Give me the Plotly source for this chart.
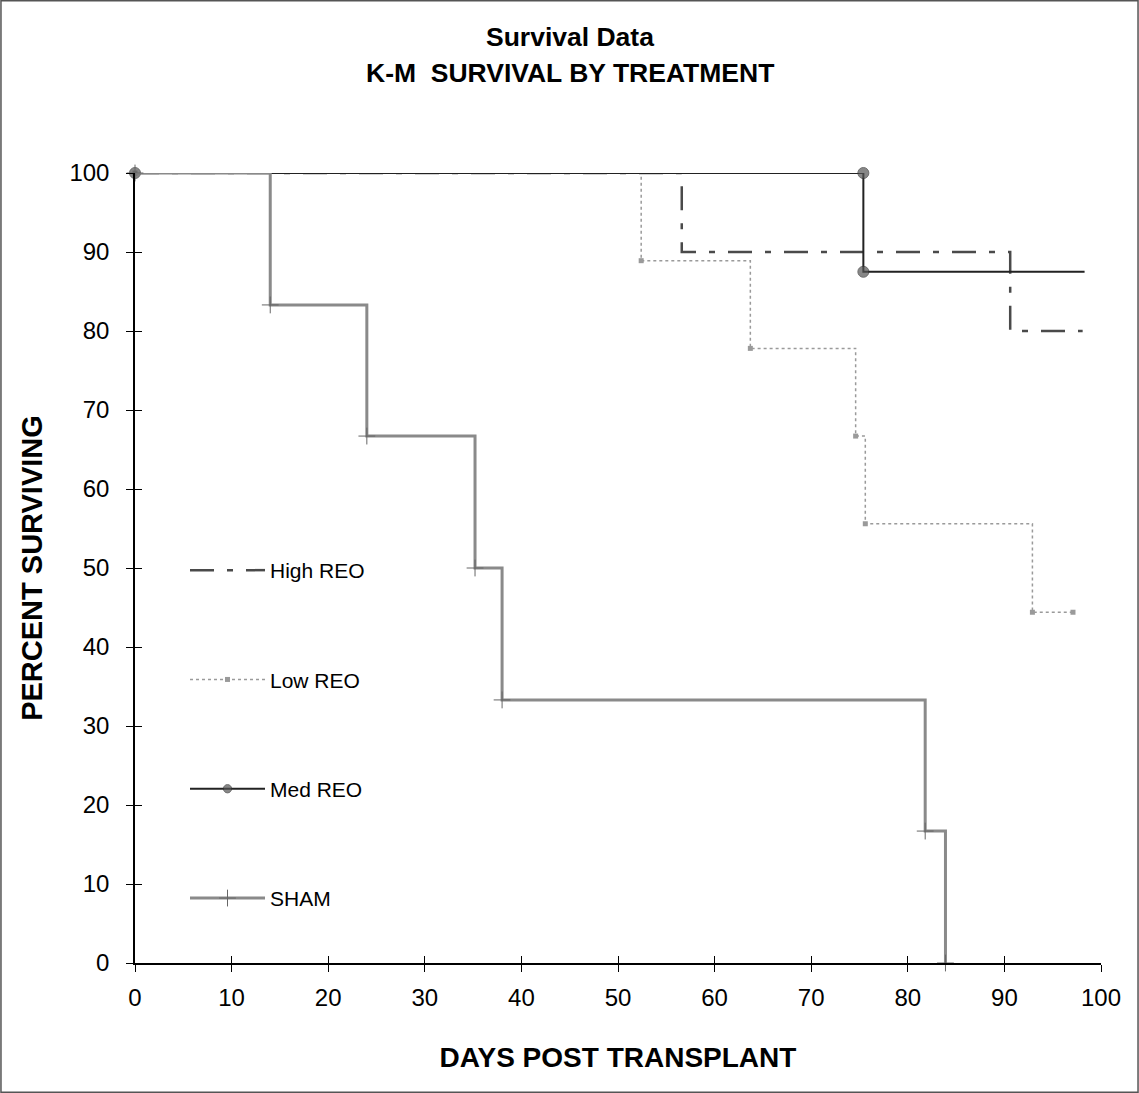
import plotly.graph_objects as go

# ---- data ----
sham_days = [0, 14.0, 24.0, 35.2, 38.0, 81.8, 83.9]
sham_surv = [100, 83.3, 66.7, 50.0, 33.3, 16.7, 0]

low_days = [0, 52.4, 63.7, 74.6, 75.6, 92.9, 97.1]
low_surv = [100, 88.9, 77.8, 66.7, 55.6, 44.4, 44.4]

high_days = [0, 56.6, 90.6, 98.1]
high_surv = [100, 90.0, 80.0, 80.0]

med_days = [0, 75.4, 75.4, 98.3]
med_surv = [100, 100, 87.5, 87.5]
med_marker_sizes = [11, 11, 11, 0]

x_ticks = list(range(0, 101, 10))
y_ticks = list(range(0, 101, 10))

title_lines = ["Survival Data", "K-M  SURVIVAL BY TREATMENT"]

FONT = "Liberation Sans, Arial, sans-serif"

# plot area geometry (pixels)
L, R, T, B = 135, 38, 173, 130
W, H = 1139, 1093
PW, PH = W - L - R, H - T - B

fig = go.Figure()

fig.add_trace(go.Scatter(
    x=high_days, y=high_surv, name="High REO", mode="lines", line_shape="hv",
    line=dict(color="#4a4a4a", width=2.5, dash="24px,13px,6px,13px"),
    legendgroup="a", cliponaxis=False))
fig.add_trace(go.Scatter(
    x=low_days, y=low_surv, name="Low REO", mode="lines+markers", line_shape="hv",
    line=dict(color="#9a9a9a", width=1.5, dash="dot"),
    marker=dict(symbol="square", size=5, color="#9a9a9a"),
    legendgroup="b", cliponaxis=False))
fig.add_trace(go.Scatter(
    x=med_days, y=med_surv, name="Med REO", mode="lines+markers",
    line=dict(color="#222222", width=2),
    marker=dict(symbol="circle", size=med_marker_sizes, color="#555555",
                line=dict(color="#333333", width=1)),
    legendgroup="c", cliponaxis=False))
fig.add_trace(go.Scatter(
    x=sham_days, y=sham_surv, name="SHAM", mode="lines+markers", line_shape="hv",
    line=dict(color="#8a8a8a", width=3),
    marker=dict(symbol="cross-thin", size=12, line=dict(color="#666666", width=1)),
    legendgroup="d", cliponaxis=False))

# invisible trace for inner tick marks
fig.add_trace(go.Scatter(x=[0, 100], y=[0, 100], xaxis="x2", yaxis="y2",
                         mode="markers", marker=dict(opacity=0),
                         showlegend=False, hoverinfo="skip"))

axis_common = dict(showgrid=False, zeroline=False, showline=True,
                   linecolor="#000000", linewidth=1.5, tickcolor="#000000",
                   tickfont=dict(family=FONT, size=24, color="#000000"))

annotations = [
    dict(text="<b>%s</b>" % title_lines[0], xref="paper", yref="paper",
         x=(W / 2 - L) / PW, y=(H - B - 37) / PH, xanchor="center", yanchor="middle",
         showarrow=False, font=dict(family=FONT, size=26.5, color="#000000")),
    dict(text="<b>%s</b>" % title_lines[1], xref="paper", yref="paper",
         x=(W / 2 - L) / PW, y=(H - B - 73) / PH, xanchor="center", yanchor="middle",
         showarrow=False, font=dict(family=FONT, size=26.5, color="#000000")),
]

fig.update_layout(
    width=W, height=H,
    paper_bgcolor="white", plot_bgcolor="white",
    margin=dict(l=L, r=R, t=T, b=B),
    font=dict(family=FONT, color="#000000"),
    annotations=annotations,
    xaxis=dict(range=[0, 100], tickvals=x_ticks, ticks="outside", ticklen=7,
               ticklabelstandoff=5,
               title=dict(text="<b>DAYS POST TRANSPLANT</b>", standoff=38,
                          font=dict(family=FONT, size=28)),
               **axis_common),
    yaxis=dict(range=[0, 100], tickvals=y_ticks, ticks="outside", ticklen=7,
               ticklabelstandoff=12,
               title=dict(text="<b>PERCENT SURVIVING</b>", standoff=18,
                          font=dict(family=FONT, size=29)),
               **axis_common),
    xaxis2=dict(overlaying="x", range=[0, 100], tickvals=x_ticks, ticks="inside",
                ticklen=7, tickcolor="#000000", showticklabels=False,
                showgrid=False, zeroline=False, showline=False, anchor="y"),
    yaxis2=dict(overlaying="y", range=[0, 100], tickvals=y_ticks, ticks="inside",
                ticklen=7, tickcolor="#000000", showticklabels=False,
                showgrid=False, zeroline=False, showline=False, anchor="x"),
    legend=dict(x=(185 - L) / PW, y=(H - B - 550) / PH, xanchor="left", yanchor="top",
                traceorder="grouped", tracegroupgap=79, itemwidth=75,
                bgcolor="rgba(0,0,0,0)",
                font=dict(family=FONT, size=21, color="#000000")),
    shapes=[dict(type="rect", xref="paper", yref="paper",
                 x0=-L / PW + 0.001, x1=1 + R / PW - 0.001,
                 y0=-B / PH + 0.001, y1=1 + T / PH - 0.001,
                 line=dict(color="#555555", width=1.5))],
)

fig.write_html("out.html")
